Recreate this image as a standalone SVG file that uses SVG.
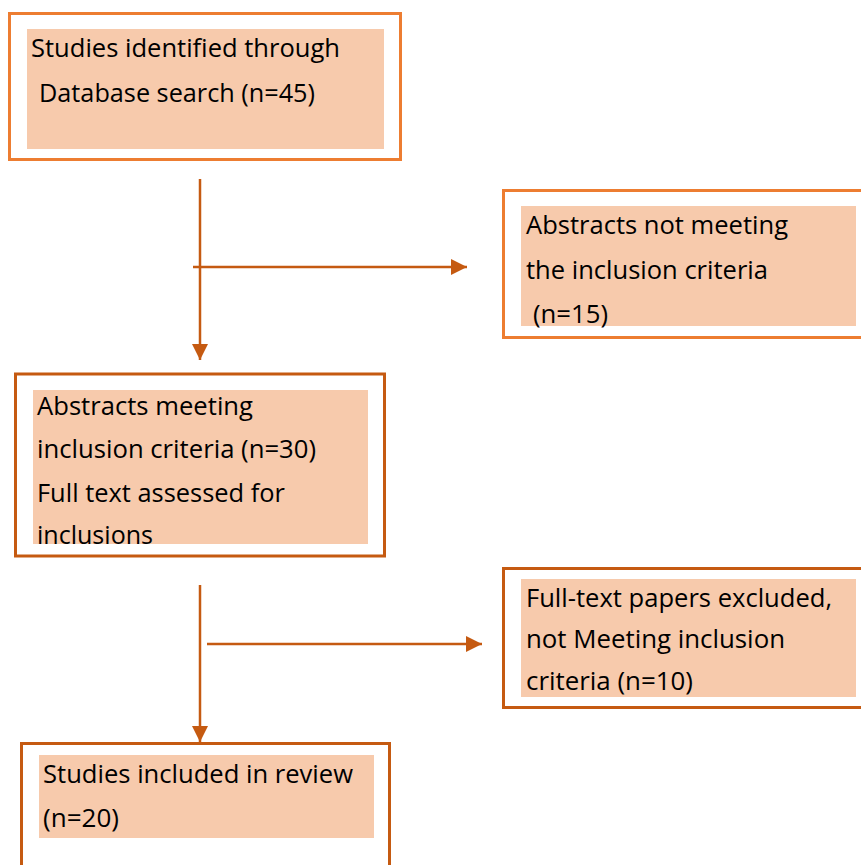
<svg xmlns="http://www.w3.org/2000/svg" width="861" height="865" viewBox="0 0 861 865">
<style>
.frame-l{fill:#ffffff;stroke:#ED7D31;stroke-width:3}
.frame-d{fill:#ffffff;stroke:#C55A11;stroke-width:3}
.fill{fill:#F7CAAC}
.t{font-family:"Open Sans","Noto Sans",sans-serif;font-size:26px;fill:#000000}
.conn{stroke:#C55A11;stroke-width:2.5;fill:none}
</style>
<defs>
<marker id="ah" viewBox="0 0 16 16" refX="16" refY="8" markerWidth="16" markerHeight="16" markerUnits="userSpaceOnUse" orient="auto">
<path d="M0,0 L16,8 L0,16 Z" fill="#C55A11"/>
</marker>
</defs>
<rect width="861" height="865" fill="#ffffff"/>
<g id="connectors">
<line class="conn" x1="200" y1="179" x2="200" y2="360" marker-end="url(#ah)"/>
<line class="conn" x1="193" y1="267" x2="467" y2="267" marker-end="url(#ah)"/>
<line class="conn" x1="200" y1="585" x2="200" y2="742" marker-end="url(#ah)"/>
<line class="conn" x1="207" y1="644" x2="482" y2="644" marker-end="url(#ah)"/>
</g>
<g id="identified">
<rect class="frame-l" x="9.5" y="13.5" width="391" height="146"/>
<rect class="fill" x="27" y="29" width="357" height="120"/>
<text class="t" x="31" y="57" textLength="309" lengthAdjust="spacingAndGlyphs">Studies identified through</text>
<text class="t" x="39" y="102" textLength="276" lengthAdjust="spacingAndGlyphs">Database search (n=45)</text>
</g>
<g id="excluded-abstracts">
<rect class="frame-l" x="503.5" y="190.5" width="370" height="147"/>
<rect class="fill" x="521" y="206" width="335" height="120"/>
<text class="t" x="526" y="234" textLength="262" lengthAdjust="spacingAndGlyphs">Abstracts not meeting</text>
<text class="t" x="526" y="279" textLength="242" lengthAdjust="spacingAndGlyphs">the inclusion criteria</text>
<text class="t" x="533" y="323" textLength="75" lengthAdjust="spacingAndGlyphs">(n=15)</text>
</g>
<g id="meeting">
<rect class="frame-d" x="15.5" y="374" width="369" height="182"/>
<rect class="fill" x="33" y="390" width="335" height="154"/>
<text class="t" x="37" y="415" textLength="216" lengthAdjust="spacingAndGlyphs">Abstracts meeting</text>
<text class="t" x="37" y="458" textLength="279" lengthAdjust="spacingAndGlyphs">inclusion criteria (n=30)</text>
<text class="t" x="37" y="502" textLength="248" lengthAdjust="spacingAndGlyphs">Full text assessed for</text>
<text class="t" x="37" y="544" textLength="116" lengthAdjust="spacingAndGlyphs">inclusions</text>
</g>
<g id="excluded-fulltext">
<rect class="frame-d" x="503.5" y="568.5" width="370" height="139"/>
<rect class="fill" x="521" y="579" width="335" height="118"/>
<text class="t" x="526" y="607" textLength="306" lengthAdjust="spacingAndGlyphs">Full-text papers excluded,</text>
<text class="t" x="526" y="648" textLength="259" lengthAdjust="spacingAndGlyphs">not Meeting inclusion</text>
<text class="t" x="526" y="690" textLength="167" lengthAdjust="spacingAndGlyphs">criteria (n=10)</text>
</g>
<g id="included">
<rect class="frame-d" x="21.5" y="743.5" width="368" height="140"/>
<rect class="fill" x="39" y="755" width="335" height="83"/>
<text class="t" x="43" y="783" textLength="310" lengthAdjust="spacingAndGlyphs">Studies included in review</text>
<text class="t" x="43" y="827" textLength="76" lengthAdjust="spacingAndGlyphs">(n=20)</text>
</g>
</svg>
